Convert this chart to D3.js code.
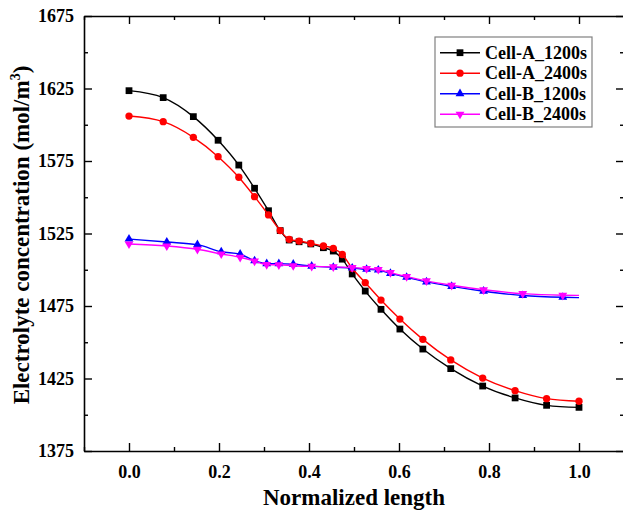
<!DOCTYPE html>
<html>
<head>
<meta charset="utf-8">
<script src="https://cdn.jsdelivr.net/npm/d3@7"></script>
<style>
  html, body { margin: 0; padding: 0; background: #fff; }
  svg { display: block; }
  text { font-family: "Liberation Serif", "Times New Roman", serif; font-weight: bold; fill: #000; }
</style>
</head>
<body>
<svg id="chart" width="623" height="515"></svg>
<script>
// ---- data ----
const xA = [0, 0.076, 0.143, 0.198, 0.244, 0.279, 0.31, 0.336, 0.356, 0.378, 0.404, 0.432, 0.454, 0.474, 0.496, 0.525, 0.56, 0.602, 0.653, 0.715, 0.786, 0.858, 0.928, 1.0];
const cellA1200 = [1623.5, 1618.7, 1605.6, 1589.3, 1572.2, 1556.2, 1540.7, 1527, 1520.5, 1519.3, 1517.8, 1515.2, 1512.9, 1507.3, 1497.1, 1485.3, 1472.7, 1459.1, 1445.3, 1431.8, 1419.8, 1411.6, 1406.5, 1405.1];
const cellA2400 = [1606, 1602.1, 1591.3, 1578, 1563.8, 1550.4, 1537.8, 1527, 1521, 1519.8, 1518.2, 1516.4, 1514.8, 1510.5, 1501, 1491.1, 1479.1, 1466, 1452, 1437.8, 1425.3, 1416.6, 1411.1, 1409.3];
const xB = [0, 0.084, 0.152, 0.205, 0.247, 0.279, 0.306, 0.333, 0.365, 0.406, 0.454, 0.496, 0.528, 0.554, 0.581, 0.617, 0.661, 0.717, 0.788, 0.875, 0.964, 1.0];
const cellB1200 = [1521.2, 1519.1, 1517.3, 1512.4, 1510.7, 1506.2, 1504.2, 1504.2, 1503.8, 1502.5, 1501.7, 1501.2, 1500.3, 1499.8, 1497.5, 1494.8, 1491.6, 1488.5, 1485.2, 1482.2, 1481.0, 1480.8];
const cellB2400 = [1517.8, 1516.4, 1514.1, 1510.9, 1508.6, 1506.0, 1503.5, 1503.4, 1502.8, 1502.3, 1502.0, 1501.5, 1500.8, 1500.2, 1498.0, 1495.3, 1492.3, 1489.3, 1486.2, 1483.5, 1482.4, 1482.3];
const seriesNames = ["Cell-A_1200s", "Cell-A_2400s", "Cell-B_1200s", "Cell-B_2400s"];
const xTicks = [0.0, 0.2, 0.4, 0.6, 0.8, 1.0];
const yTicks = [1375, 1425, 1475, 1525, 1575, 1625, 1675];
const xTitle = "Normalized length";
const yTitle = "Electrolyte concentration (mol/m";

// ---- layout ----
const svg = d3.select("#chart");
const x = d3.scaleLinear().domain([-0.1, 1.1]).range([84, 624]);
const y = d3.scaleLinear().domain([1375, 1675]).range([451, 16]);

const series = [
  { name: seriesNames[0], xs: xA, ys: cellA1200, color: "#000000", symbol: d3.symbolSquare, size: 46, rot: 0, lastMarker: true },
  { name: seriesNames[1], xs: xA, ys: cellA2400, color: "#ff0000", symbol: d3.symbolCircle, size: 42, rot: 0, lastMarker: true },
  { name: seriesNames[2], xs: xB, ys: cellB1200, color: "#0000ff", symbol: d3.symbolTriangle, size: 34, rot: 0, lastMarker: false },
  { name: seriesNames[3], xs: xB, ys: cellB2400, color: "#ff00ff", symbol: d3.symbolTriangle, size: 34, rot: 180, lastMarker: false }
];

const line = d3.line().x(d => x(d[0])).y(d => y(d[1])).curve(d3.curveMonotoneX);

const plot = svg.append("g");
series.forEach(s => {
  const pts = s.xs.map((v, i) => [v, s.ys[i]]);
  plot.append("path").attr("d", line(pts)).attr("fill", "none")
    .attr("stroke", s.color).attr("stroke-width", 1.4);
  const mpts = s.lastMarker ? pts : pts.slice(0, -1);
  plot.selectAll(null).data(mpts).enter().append("path")
    .attr("d", d3.symbol().type(s.symbol).size(s.size))
    .attr("transform", d => `translate(${x(d[0])},${y(d[1])}) rotate(${s.rot})`)
    .attr("fill", s.color);
});

// ---- axes (ticks inward, full frame) ----
const minorX = d3.range(-0.1, 1.101, 0.1).filter(v => !xTicks.some(t => Math.abs(t - v) < 1e-6));
const minorY = d3.range(1400, 1675, 50);

const axB = svg.append("g").attr("transform", `translate(0,${y(1375)})`)
  .call(d3.axisBottom(x).tickValues(xTicks).tickFormat(d3.format(".1f")).tickSizeInner(-8).tickSizeOuter(0).tickPadding(14));
axB.append("g").call(d3.axisBottom(x).tickValues(minorX).tickFormat("").tickSizeInner(-4).tickSizeOuter(0)).select(".domain").remove();
const axT = svg.append("g").attr("transform", `translate(0,${y(1675)})`)
  .call(d3.axisTop(x).tickValues(xTicks).tickFormat("").tickSizeInner(-8).tickSizeOuter(0));
axT.append("g").call(d3.axisTop(x).tickValues(minorX).tickFormat("").tickSizeInner(-4).tickSizeOuter(0)).select(".domain").remove();
const axL = svg.append("g").attr("transform", `translate(${x(-0.1)},0)`)
  .call(d3.axisLeft(y).tickValues(yTicks).tickFormat(d3.format("d")).tickSizeInner(-8).tickSizeOuter(0).tickPadding(10));
axL.append("g").call(d3.axisLeft(y).tickValues(minorY).tickFormat("").tickSizeInner(-4).tickSizeOuter(0)).select(".domain").remove();
const axR = svg.append("g").attr("transform", `translate(${x(1.1)},0)`)
  .call(d3.axisRight(y).tickValues(yTicks).tickFormat("").tickSizeInner(-8).tickSizeOuter(0));
axR.append("g").call(d3.axisRight(y).tickValues(minorY).tickFormat("").tickSizeInner(-4).tickSizeOuter(0)).select(".domain").remove();

svg.selectAll(".domain").attr("stroke", "#000").attr("stroke-width", 1.6);
svg.selectAll(".tick line").attr("stroke", "#000").attr("stroke-width", 1.4);
svg.selectAll(".tick text").style("font-family", "'Liberation Serif', serif").style("font-weight", "bold").style("font-size", "18px").attr("fill", "#000");

// ---- titles ----
svg.append("text").attr("x", (x(-0.1) + x(1.1)) / 2).attr("y", 505)
  .attr("text-anchor", "middle").style("font-size", "23px").text(xTitle);
const yt = svg.append("text").attr("transform", `translate(29,235) rotate(-90)`)
  .attr("text-anchor", "middle").style("font-size", "23px");
yt.append("tspan").text(yTitle);
yt.append("tspan").attr("dy", -9).style("font-size", "14px").text("3");
yt.append("tspan").attr("dy", 9).text(")");

// ---- legend ----
const lg = svg.append("g");
lg.append("rect").attr("x", 435).attr("y", 37).attr("width", 157).attr("height", 90)
  .attr("fill", "#fff").attr("stroke", "#808080").attr("stroke-width", 1.2);
series.forEach((s, i) => {
  const ly = 52.7 + i * 20.5;
  lg.append("line").attr("x1", 440).attr("x2", 480).attr("y1", ly).attr("y2", ly)
    .attr("stroke", s.color).attr("stroke-width", 1.4);
  lg.append("path").attr("d", d3.symbol().type(s.symbol).size(s.size))
    .attr("transform", `translate(460,${ly}) rotate(${s.rot})`).attr("fill", s.color);
  lg.append("text").attr("x", 485).attr("y", ly + 6).style("font-size", "18px").text(s.name);
});
</script>
</body>
</html>
